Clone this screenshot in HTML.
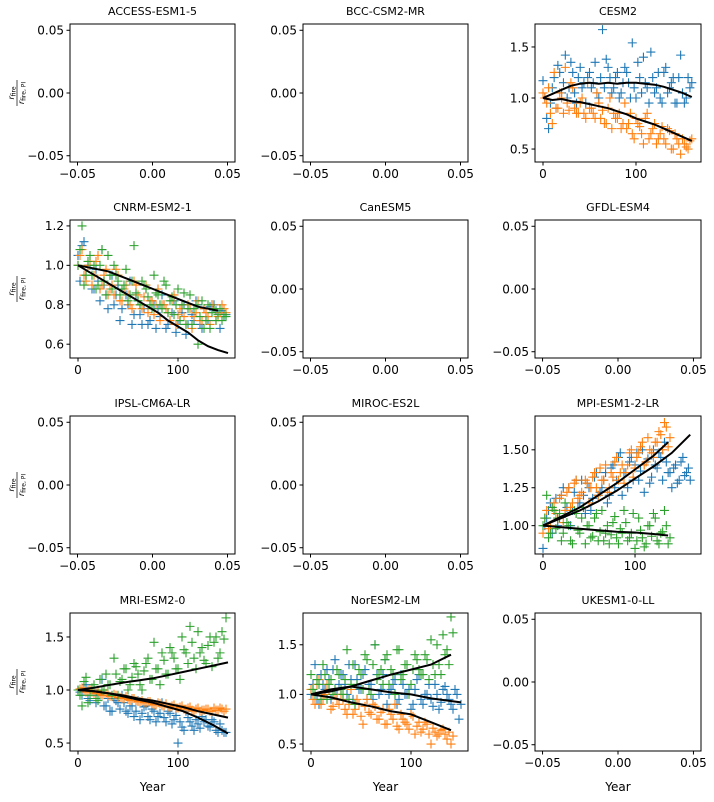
<!DOCTYPE html>
<html><head><meta charset="utf-8">
<style>
html,body{margin:0;padding:0;background:#fff;}
svg text{font-family:"DejaVu Sans","Liberation Sans",sans-serif;fill:#000;}
</style></head>
<body>
<svg id="fig" width="714" height="797" viewBox="0 0 714 797" xmlns="http://www.w3.org/2000/svg"></svg>
<script>
// ---------- data ----------
const years4 = [0,4,8,12,16,20,24,28,32,36,40,44,48,52,56,60,64,68,72,76,80,84,88,92,96,100,104,108,112,116,120,124,128,132,136,140,144,148,152,156,160];
const yearsB = [2,6,10,14,18,22,26,30,34,38,42,46,50,54,58,62,66,70,74,78,82,86,90,94,98,102,106,110,114,118,122,126,130,134,138,142,146,150,154,158];
const years10 = [0,10,20,30,40,50,60,70,80,90,100,110,120,130,140,150,160];
const years15 = [0,15,30,45,60,75,90,105,120,135,150];
const years20 = [0,20,40,60,80,100,120,140,160];

// CESM2
const cesmBlue = [1.17,0.8,0.95,1.2,1.32,1.05,1.42,1.1,1.25,0.95,1.3,1.15,1.2,1.1,1.35,1.0,1.67,1.38,1.2,1.1,1.25,1.05,1.3,1.15,1.54,1.0,1.2,1.4,1.1,1.45,1.05,1.25,0.95,1.3,1.1,1.2,0.95,1.42,0.95,1.2,1.15];
const cesmBlueB = [1.0,0.7,1.1,0.9,1.25,1.15,1.0,1.35,1.05,1.2,1.1,0.95,1.25,1.15,1.05,1.2,1.1,1.3,1.05,1.2,1.0,1.15,1.25,1.0,1.1,1.35,1.05,1.15,0.95,1.2,1.1,1.0,1.25,1.05,1.15,0.95,1.2,1.05,1.0,1.1];
const cesmOrange = [1.05,0.95,0.85,1.25,0.9,1.0,1.3,0.88,1.1,0.85,0.95,0.85,1.15,0.9,0.8,0.95,0.88,0.75,1.0,0.85,0.8,0.7,0.95,0.75,0.65,0.8,0.72,0.55,0.85,0.65,0.75,0.6,0.72,0.55,0.68,0.5,0.6,0.45,0.55,0.5,0.6];
const cesmOrangeB = [1.0,1.1,0.75,0.9,1.05,0.85,0.95,1.15,0.9,0.85,1.0,0.8,0.9,0.85,1.05,0.8,0.75,0.9,0.7,0.8,0.85,0.75,0.7,0.85,0.6,0.75,0.65,0.8,0.6,0.7,0.55,0.65,0.6,0.7,0.5,0.65,0.55,0.6,0.52,0.58];
const cesmBlueMean = [1.0,1.04,1.08,1.12,1.14,1.15,1.14,1.15,1.14,1.15,1.15,1.14,1.13,1.11,1.08,1.05,1.01];
const cesmOrangeMean = [1.0,0.98,0.99,0.97,0.96,0.94,0.92,0.9,0.87,0.84,0.8,0.77,0.74,0.7,0.66,0.62,0.58];

// CNRM-ESM2-1
const cnrmBlue = [1.05,1.1,0.95,1.0,0.88,0.92,1.08,0.85,0.95,0.8,0.9,0.78,0.85,0.92,0.75,0.82,0.7,0.88,0.72,0.8,0.78,0.85,0.68,0.72,0.82,0.7,0.76,0.65,0.78,0.72,0.8,0.68,0.74,0.79,0.8,0.76,0.77,0.75];
const cnrmBlueB = [0.92,1.12,1.0,0.88,0.98,0.82,0.9,0.78,0.95,0.85,0.72,0.88,0.8,0.7,0.85,0.75,0.78,0.7,0.82,0.68,0.74,0.8,0.7,0.76,0.66,0.72,0.8,0.7,0.75,0.82,0.7,0.78,0.72,0.8,0.77,0.68,0.74];
const cnrmOrange = [1.0,1.08,0.92,1.02,0.95,1.05,0.9,0.98,0.88,0.85,0.95,0.82,0.9,0.8,0.92,0.85,0.78,0.9,0.82,0.75,0.88,0.8,0.78,0.72,0.85,0.75,0.8,0.7,0.78,0.74,0.82,0.72,0.76,0.7,0.78,0.74,0.8,0.76];
const cnrmOrangeB = [1.05,0.95,1.0,0.9,1.02,0.88,0.95,0.85,0.9,0.98,0.82,0.88,0.85,0.78,0.9,0.8,0.84,0.76,0.82,0.8,0.72,0.8,0.76,0.82,0.7,0.78,0.74,0.8,0.68,0.76,0.72,0.78,0.74,0.8,0.72,0.76,0.78];
const cnrmGreen = [1.0,1.2,0.95,1.05,1.0,0.9,1.08,0.85,0.95,1.0,0.92,0.88,0.98,0.85,1.1,0.82,0.92,0.88,0.8,0.95,0.85,0.78,0.9,0.82,0.75,0.88,0.8,0.7,0.85,0.78,0.6,0.82,0.72,0.68,0.78,0.75,0.72,0.74];
const cnrmGreenB = [1.08,0.9,1.02,0.95,0.88,1.0,0.92,1.05,0.88,0.95,0.85,0.9,0.82,0.92,0.86,0.8,0.9,0.84,0.78,0.86,0.8,0.92,0.76,0.84,0.8,0.72,0.86,0.78,0.7,0.8,0.74,0.68,0.8,0.76,0.72,0.78,0.75];
const cnrmUpperMean = [1.0,0.99,0.98,0.97,0.95,0.93,0.91,0.89,0.87,0.85,0.83,0.81,0.79,0.78,0.77];
const cnrmLowerMean = [1.0,0.97,0.94,0.91,0.88,0.85,0.82,0.79,0.76,0.72,0.69,0.66,0.62,0.59,0.57,0.555];

// MPI-ESM1-2-LR
const mpiBlue = [0.85,1.05,1.15,1.1,1.0,1.2,1.08,1.25,1.1,1.3,1.15,1.2,1.28,1.1,1.32,1.2,1.25,1.35,1.2,1.4,1.3,1.48,1.35,1.25,1.45,1.4,1.3,1.5,1.42,1.28,1.5,1.38,1.45,1.55,1.35,1.25,1.4,1.3,1.45,1.35,1.3];
const mpiBlueB = [1.0,1.1,0.95,1.18,1.05,1.25,1.12,1.0,1.22,1.15,1.3,1.08,1.25,1.18,1.35,1.22,1.3,1.15,1.38,1.25,1.45,1.2,1.35,1.42,1.3,1.48,1.36,1.22,1.44,1.32,1.4,1.48,1.3,1.42,1.35,1.38,1.28,1.42,1.33,1.38];
const mpiOrange = [0.95,1.1,1.0,1.15,1.05,1.2,1.1,1.25,1.15,1.3,1.2,1.12,1.28,1.25,1.35,1.2,1.3,1.4,1.25,1.32,1.45,1.35,1.28,1.4,1.5,1.38,1.48,1.55,1.42,1.5,1.45,1.55,1.6,1.68,1.52];
const mpiOrangeB = [1.05,0.98,1.12,1.08,1.18,1.02,1.22,1.12,1.28,1.18,1.22,1.3,1.15,1.32,1.25,1.38,1.3,1.22,1.35,1.42,1.3,1.4,1.35,1.48,1.32,1.45,1.52,1.4,1.58,1.48,1.55,1.62,1.5,1.65,1.58];
const mpiGreen = [1.0,1.2,0.95,1.1,1.05,0.9,1.15,1.0,0.88,1.08,0.95,1.12,1.0,0.92,1.05,0.9,1.1,0.95,0.88,1.02,0.92,0.98,1.1,0.9,0.95,0.85,1.05,0.92,0.88,1.0,1.08,0.9,0.95,1.1,0.88];
const mpiGreenB = [1.05,0.92,1.12,0.98,1.08,0.95,1.02,0.9,1.1,0.97,1.05,0.88,1.0,0.93,1.08,0.96,0.9,1.0,0.94,1.06,0.88,0.95,1.02,0.92,1.08,0.9,0.97,0.86,1.0,0.93,1.05,0.88,0.96,1.0,0.92];
const mpiBlueMean = [1.0,1.05,1.1,1.16,1.23,1.31,1.39,1.48,1.6];
const mpiOrangeMean = [1.0,1.06,1.12,1.2,1.28,1.37,1.46,1.55];
const mpiGreenMean = [1.0,0.99,0.98,0.97,0.96,0.955,0.945,0.935];

// MRI-ESM2-0
const mriBlue = [1.0,0.95,1.05,0.9,1.0,0.95,1.1,0.85,0.8,0.92,0.88,0.95,0.8,0.85,0.75,0.9,0.78,0.85,0.72,0.8,0.75,0.88,0.7,0.78,0.72,0.5,0.65,0.8,0.7,0.62,0.68,0.75,0.72,0.65,0.7,0.6,0.62,0.6];
const mriBlueB = [0.98,1.02,0.92,1.0,0.88,0.95,0.85,0.92,0.8,0.9,0.82,0.88,0.78,0.85,0.8,0.72,0.84,0.75,0.82,0.7,0.78,0.74,0.8,0.68,0.76,0.7,0.62,0.74,0.66,0.72,0.64,0.7,0.66,0.72,0.62,0.68,0.6];
const mriOrange = [1.0,1.02,0.98,1.0,0.97,0.99,0.95,0.97,0.94,0.96,0.93,0.92,0.94,0.9,0.92,0.89,0.9,0.88,0.89,0.86,0.88,0.85,0.87,0.84,0.86,0.83,0.85,0.82,0.84,0.8,0.83,0.81,0.82,0.8,0.83,0.81,0.82,0.82];
const mriOrangeB = [1.01,0.99,1.0,0.98,0.97,0.96,0.97,0.95,0.94,0.95,0.93,0.92,0.91,0.92,0.9,0.89,0.88,0.89,0.87,0.86,0.87,0.85,0.84,0.85,0.83,0.84,0.82,0.83,0.81,0.82,0.8,0.81,0.82,0.8,0.81,0.83,0.8];
const mriGreen = [1.0,0.85,1.12,0.95,1.05,0.9,1.0,1.15,1.05,1.3,0.95,1.1,1.2,1.05,1.25,1.15,1.0,1.25,1.1,1.45,1.2,1.35,1.15,1.4,1.3,1.2,1.5,1.35,1.6,1.3,1.55,1.4,1.25,1.5,1.45,1.3,1.55,1.68];
const mriGreenB = [0.95,1.08,0.88,1.02,0.92,1.1,1.0,1.05,0.95,1.15,1.08,1.2,1.0,1.12,1.22,1.05,1.18,1.3,1.1,1.2,1.05,1.28,1.15,1.35,1.2,1.1,1.38,1.25,1.45,1.2,1.35,1.28,1.42,1.22,1.5,1.35,1.48];
const mriGreenMean = [1.0,1.02,1.045,1.07,1.09,1.11,1.14,1.17,1.2,1.23,1.26];
const mriMidMean = [1.0,0.99,0.97,0.95,0.92,0.9,0.87,0.84,0.8,0.77,0.74];
const mriLowMean = [1.0,0.99,0.97,0.94,0.91,0.88,0.84,0.8,0.74,0.67,0.59];

// NorESM2-LM
const norBlue = [1.0,1.3,0.9,1.1,1.25,0.95,1.35,1.1,1.2,1.0,1.15,1.3,1.05,1.2,0.95,1.1,1.5,1.0,1.2,0.9,1.05,1.15,0.95,1.1,1.0,0.85,1.05,1.2,0.9,1.0,0.95,1.1,0.85,1.05,1.0,0.9,1.05,0.75];
const norBlueB = [1.1,0.95,1.2,1.05,1.15,1.25,1.0,1.2,1.1,1.3,0.95,1.15,1.05,1.25,1.1,0.95,1.2,1.05,1.35,1.0,1.1,0.9,1.2,1.0,1.05,0.9,1.15,0.95,1.0,1.1,0.88,1.0,0.92,1.08,0.95,0.85,1.0,0.9];
const norOrange = [1.05,0.9,1.15,0.95,1.1,0.85,1.0,0.9,0.95,0.8,1.05,0.85,0.9,0.7,0.95,0.8,0.88,0.75,0.85,0.7,0.8,0.9,0.65,0.75,0.7,0.8,0.6,0.72,0.65,0.7,0.5,0.62,0.6,0.65,0.55,0.5];
const norOrangeB = [0.95,1.1,0.9,1.0,1.05,0.88,0.95,1.0,0.85,0.9,0.8,0.95,0.78,0.88,0.82,0.9,0.75,0.82,0.7,0.85,0.75,0.68,0.8,0.72,0.65,0.78,0.68,0.62,0.72,0.6,0.66,0.58,0.64,0.6,0.62,0.58];
const norGreen = [1.2,1.0,1.1,1.3,0.95,1.15,1.05,1.2,1.0,1.45,1.1,0.9,1.25,1.05,1.35,1.0,1.5,1.2,1.1,1.4,1.25,1.0,1.45,1.2,1.3,1.1,1.4,1.25,1.2,1.35,1.55,1.2,1.3,1.6,1.45,1.78];
const norGreenB = [1.05,1.15,0.95,1.2,1.1,1.0,1.25,1.05,1.15,0.95,1.3,1.1,1.2,1.4,1.05,1.3,1.15,1.25,1.35,1.1,1.2,1.45,1.15,1.3,1.0,1.25,1.35,1.2,1.4,1.15,1.3,1.5,1.2,1.4,1.3,1.62];
const norGreenMean = [1.0,1.03,1.08,1.14,1.2,1.25,1.3,1.4];
const norBlueMean = [1.0,1.05,1.08,1.05,1.02,1.0,0.96,0.92];
const norOrangeMean = [1.0,0.97,0.92,0.88,0.83,0.8,0.72,0.64];

const emptyTicks = [-0.05,0,0.05];
const emptyTickLabels = ["\u22120.05","0.00","0.05"];

// ---------- drawing ----------
const svg = document.getElementById('fig');
const NS = 'http://www.w3.org/2000/svg';
const C = {blue:'#1f77b4', orange:'#ff7f0e', green:'#2ca02c'};
function mk(tag, attrs, parent){
  const e = document.createElementNS(NS, tag);
  for (const k in attrs) e.setAttribute(k, attrs[k]);
  (parent||svg).appendChild(e);
  return e;
}
const cols = [[70,235],[303,468],[535,701]];
const rows = [[24,162],[220,358],[416,554],[613,751]];

function panel(name, r, c, xd, yd, xt, xtl, yt, ytl, series, lines){
  const [L,R] = cols[c], [T,B] = rows[r];
  const g = mk('g', {});
  
  
  const sx = v => L + (v - xd[0]) / (xd[1] - xd[0]) * (R - L);
  const sy = v => B - (v - yd[0]) / (yd[1] - yd[0]) * (B - T);
  const t = mk('text', {x:(L+R)/2, y:T-9, 'font-size':11, 'text-anchor':'middle'}, g);
  t.textContent = name;
  
  
  series.forEach(s => {
    const sg = mk('g', {stroke:s.color, 'stroke-width':1.1}, g);
    
    
    s.vals.forEach((v,i) => {
      if (s.years[i] === undefined) return;
      const px = sx(s.years[i]), py = sy(v);
      const p = mk('path', {d:`M${px-4.5},${py}H${px+4.5}M${px},${py-4.5}V${py+4.5}`}, sg);
      
      
    });
  });
  lines.forEach(l => {
    const pts = l.vals.map((v,i) => sx(l.years[i]).toFixed(1) + ',' + sy(v).toFixed(1)).join(' ');
    const pl = mk('polyline', {points:pts, fill:'none', stroke:'#000', 'stroke-width':2}, g);
    
    
  });
  const fr = mk('rect', {x:L, y:T, width:R-L, height:B-T, fill:'none', stroke:'#000', 'stroke-width':1}, g);
  
  
  xt.forEach((v,i) => {
    const px = sx(v);
    mk('line', {x1:px, x2:px, y1:B, y2:B+3.5, stroke:'#000'}, g);
    const tl = mk('text', {x:px, y:B+16, 'font-size':12, 'text-anchor':'middle'}, g);
    tl.textContent = xtl[i];
    
    
  });
  yt.forEach((v,i) => {
    const py = sy(v);
    mk('line', {x1:L-3.5, x2:L, y1:py, y2:py, stroke:'#000'}, g);
    const tl = mk('text', {x:L-6, y:py+4.3, 'font-size':12, 'text-anchor':'end'}, g);
    tl.textContent = ytl[i];
    
    
  });
  if (c === 0){
    const yl = mk('g', {transform:`translate(16,${(T+B)/2}) rotate(-90)`}, g);
    
    
    const a = mk('text', {x:0, y:-2, 'font-size':8, 'text-anchor':'middle', 'font-style':'italic'}, yl);
    a.textContent = 'r';
    const a2 = mk('tspan', {'font-size':6, 'font-style':'normal', dy:1.5}, a); a2.textContent = 'fire';
    mk('line', {x1:-13, x2:13, y1:1, y2:1, stroke:'#000', 'stroke-width':0.7}, yl);
    const b = mk('text', {x:0, y:8, 'font-size':8, 'text-anchor':'middle', 'font-style':'italic'}, yl);
    b.textContent = 'r';
    const b2 = mk('tspan', {'font-size':6, 'font-style':'normal', dy:1.5}, b); b2.textContent = 'fire, PI';
  }
  if (r === 3){
    const xl = mk('text', {x:(L+R)/2, y:791, 'font-size':12, 'text-anchor':'middle'}, g);
    xl.textContent = 'Year';
    
    
  }
}
function empty(name, r, c){
  panel(name, r, c, [-0.055,0.055], [-0.055,0.055], emptyTicks, emptyTickLabels, emptyTicks, emptyTickLabels, [], []);
}
const S = (key, color, vals, yrs) => ({key, color, vals, years: yrs || years4});

empty('ACCESS-ESM1-5',0,0);
empty('BCC-CSM2-MR',0,1);
panel('CESM2',0,2,[-8.6,169.9],[0.373,1.725],[0,100],['0','100'],[0.5,1.0,1.5],['0.5','1.0','1.5'],
  [S('blue',C.blue,cesmBlue),S('blue',C.blue,cesmBlueB,yearsB),S('orange',C.orange,cesmOrange),S('orange',C.orange,cesmOrangeB,yearsB)],
  [{key:'blue',vals:cesmBlueMean,years:years10},{key:'orange',vals:cesmOrangeMean,years:years10}]);
panel('CNRM-ESM2-1',1,0,[-8,157],[0.53,1.23],[0,100],['0','100'],[0.6,0.8,1.0,1.2],['0.6','0.8','1.0','1.2'],
  [S('blue',C.blue,cnrmBlue),S('blue',C.blue,cnrmBlueB,yearsB),S('orange',C.orange,cnrmOrange),S('orange',C.orange,cnrmOrangeB,yearsB),S('green',C.green,cnrmGreen),S('green',C.green,cnrmGreenB,yearsB)],
  [{key:'upper',vals:cnrmUpperMean,years:years10},{key:'lower',vals:cnrmLowerMean,years:years10}]);
empty('CanESM5',1,1);
empty('GFDL-ESM4',1,2);
empty('IPSL-CM6A-LR',2,0);
empty('MIROC-ES2L',2,1);
panel('MPI-ESM1-2-LR',2,2,[-8.7,171.7],[0.813,1.723],[0,100],['0','100'],[1.0,1.25,1.5],['1.00','1.25','1.50'],
  [S('blue',C.blue,mpiBlue),S('blue',C.blue,mpiBlueB,yearsB),S('orange',C.orange,mpiOrange),S('orange',C.orange,mpiOrangeB,yearsB),S('green',C.green,mpiGreen),S('green',C.green,mpiGreenB,yearsB)],
  [{key:'blue',vals:mpiBlueMean,years:years20},{key:'orange',vals:mpiOrangeMean,years:[0,20,40,60,80,100,120,136]},{key:'green',vals:mpiGreenMean,years:[0,20,40,60,80,100,120,136]}]);
panel('MRI-ESM2-0',3,0,[-8,157],[0.425,1.726],[0,100],['0','100'],[0.5,1.0,1.5],['0.5','1.0','1.5'],
  [S('blue',C.blue,mriBlue),S('blue',C.blue,mriBlueB,yearsB),S('orange',C.orange,mriOrange),S('orange',C.orange,mriOrangeB,yearsB),S('green',C.green,mriGreen),S('green',C.green,mriGreenB,yearsB)],
  [{key:'green',vals:mriGreenMean,years:years15},{key:'mid',vals:mriMidMean,years:years15},{key:'low',vals:mriLowMean,years:years15}]);
panel('NorESM2-LM',3,1,[-8,157],[0.43,1.82],[0,100],['0','100'],[0.5,1.0,1.5],['0.5','1.0','1.5'],
  [S('blue',C.blue,norBlue),S('blue',C.blue,norBlueB,yearsB),S('orange',C.orange,norOrange),S('orange',C.orange,norOrangeB,yearsB),S('green',C.green,norGreen),S('green',C.green,norGreenB,yearsB)],
  [{key:'green',vals:norGreenMean,years:[0,20,40,60,80,100,120,140]},{key:'blue',vals:norBlueMean,years:[0,20,40,60,80,100,120,150]},{key:'orange',vals:norOrangeMean,years:[0,20,40,60,80,100,120,140]}]);
empty('UKESM1-0-LL',3,2);
</script>
</body></html>
